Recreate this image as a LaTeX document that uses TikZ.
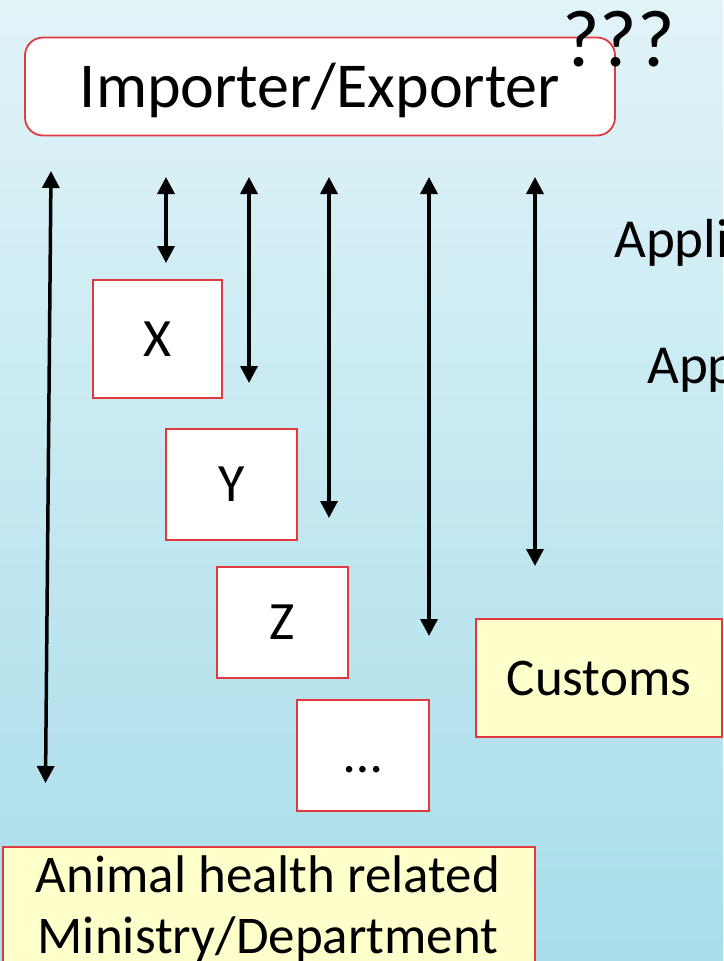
\documentclass[tikz,border=0pt]{standalone}
\usepackage{fontspec}
\setmainfont{Carlito}
\usetikzlibrary{arrows.meta}
\definecolor{bgtop}{HTML}{E1F4F8}
\definecolor{bgbot}{HTML}{A8DDEA}
\definecolor{bred}{HTML}{E0393E}
\definecolor{lyel}{HTML}{FFFFCC}
\begin{document}
\begin{tikzpicture}[x=1pt,y=-1pt,
 box/.style={draw=bred, line width=1.8pt, fill=white, inner sep=0pt, text height=34.5pt, text depth=0pt, font=\fontsize{54}{60}\selectfont},
 ybox/.style={box, fill=lyel},
 dar/.style={line width=3.5pt, {Triangle[width=17pt,length=17pt]}-{Triangle[width=17pt,length=17pt]}},
 lbl/.style={inner sep=0pt, anchor=base west}]
\useasboundingbox (0,0) rectangle (723,961);
\clip (0,0) rectangle (723,961);
\shade[top color=bgtop, bottom color=bgbot] (0,0) rectangle (723,961);

\node[box, rounded corners=18pt, minimum width=590pt, minimum height=98pt, text height=41pt, font=\fontsize{64}{70}\selectfont] (imp) at (320,86.5) {Importer/Exporter};
\node[lbl, font=\fontsize{81}{85}\selectfont] (q) at (562,66) {???};

\node[box, minimum width=129pt, minimum height=118pt] (x) at (157.5,339) {X};
\node[box, minimum width=131pt, minimum height=111pt] (y) at (231.5,484.5) {Y};
\node[box, minimum width=131pt, minimum height=111pt] (z) at (282.5,622.5) {Z};
\node[box, minimum width=132pt, minimum height=111pt] (etc) at (363,755.5) {…};
\node[ybox, minimum width=246pt, minimum height=118pt, font=\fontsize{53}{60}\selectfont] (cus) at (599,678) {Customs};
\node[ybox, anchor=north west, minimum width=532pt, minimum height=160pt] (ah) at (2,846) {};
\node[anchor=base, align=center, inner sep=0pt, font=\fontsize{53}{61}\selectfont] (aht) at (268,953) {Animal health related\\Ministry/Department};

\node[lbl, font=\fontsize{55}{60}\selectfont] (app1) at (614,257) {Appli};
\node[lbl, font=\fontsize{55}{60}\selectfont] (app2) at (647,383) {App};

\coordinate (e1a) at (51,171);
\coordinate (e1b) at (45.5,783);
\coordinate (e2a) at (166,177);
\coordinate (e2b) at (166,263);
\coordinate (e3a) at (249,177);
\coordinate (e3b) at (249,383);
\coordinate (e4a) at (329,177);
\coordinate (e4b) at (329,518);
\coordinate (e5a) at (429,177);
\coordinate (e5b) at (429,636);
\coordinate (e6a) at (535,177);
\coordinate (e6b) at (535,566);
\draw[dar] (e1a) -- (e1b);
\draw[dar] (e2a) -- (e2b);
\draw[dar] (e3a) -- (e3b);
\draw[dar] (e4a) -- (e4b);
\draw[dar] (e5a) -- (e5b);
\draw[dar] (e6a) -- (e6b);
\end{tikzpicture}
\end{document}
